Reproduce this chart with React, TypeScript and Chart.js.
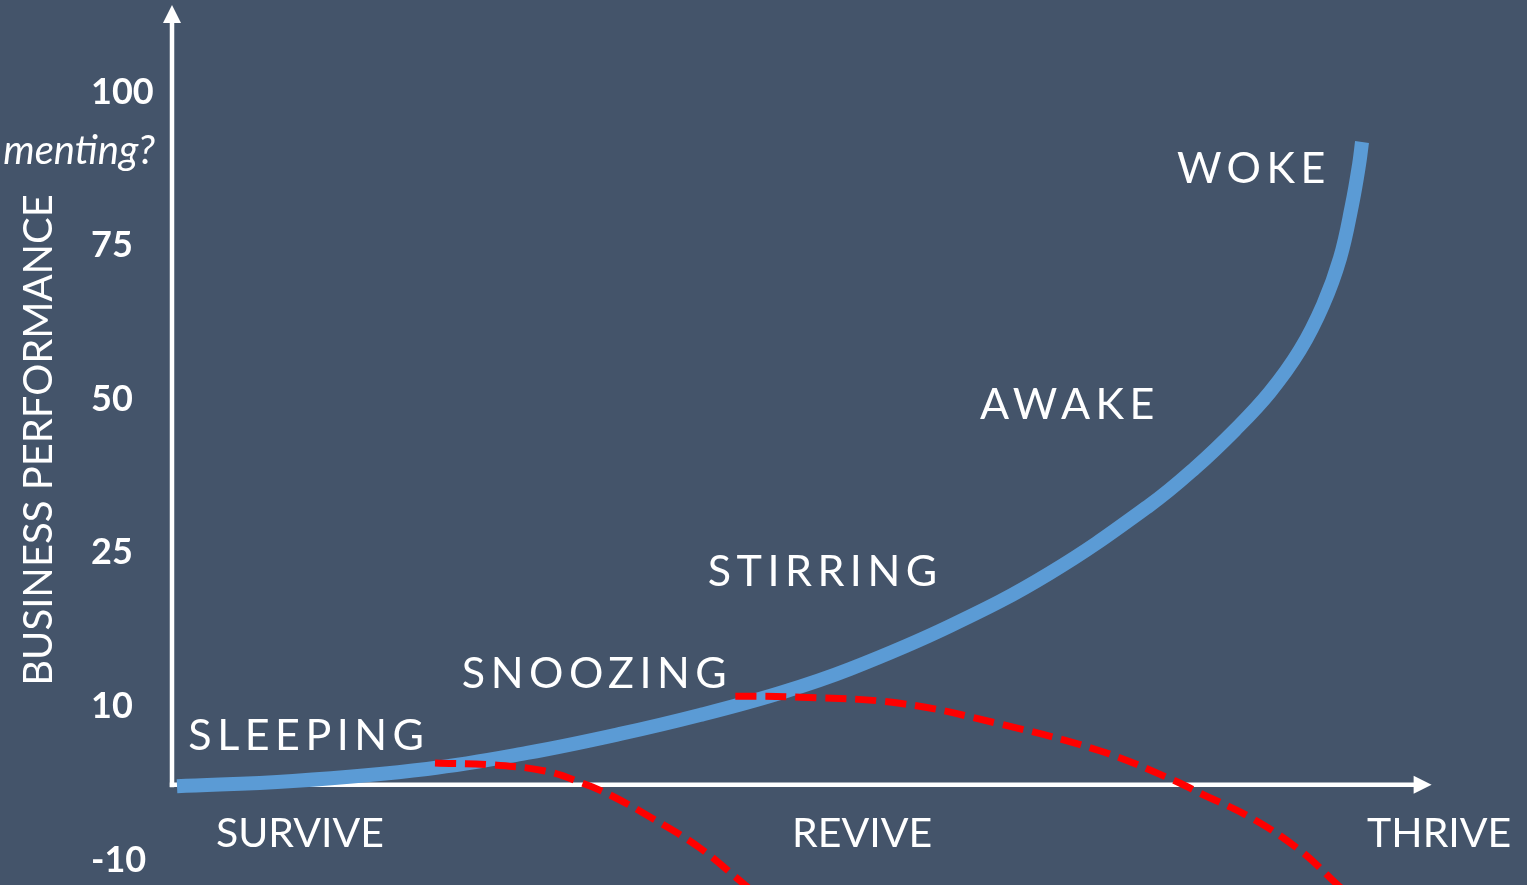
import React, { useEffect, useRef } from 'react';
import { Chart, registerables } from 'chart.js';

Chart.register(...registerables);

// ---- scale definition (business performance is drawn on a banded scale) ----
const SCALE_VALUES = [-10, 0, 10, 25, 50, 75, 100];
const SCALE_POSITIONS = [0, 0.49, 1, 2, 3, 4, 5];
const Y_TICKS = [-10, 10, 25, 50, 75, 100];
const Y_TICK_LABELS = ['-10', '10', '25', '50', '75', '100'];
const Y_MIN_POS = -0.163;
const Y_MAX_POS = 5.599;
const X_MIN = 0;
const X_MAX = 108;
const X_AXIS_END = 100.4;

// ---- series ----
const CURVE_X = [0.4, 9.64, 20.32, 28.3, 35.71, 42.08, 48.46, 54.04, 62.01, 69.98, 77.95, 81.54, 84.73, 87.52, 89.91, 91.74, 93.1, 94.05, 94.61, 94.85];
const CURVE_Y = [-0.2, 0.48, 2.01, 4.05, 6.48, 8.9, 11.31, 13.65, 17.85, 23.03, 32.78, 38.8, 44.99, 51.17, 58.01, 65.33, 72.98, 81.61, 88.12, 91.86];

const DECLINE1_X = [20.96, 25.59, 29.73, 32.68, 34.91, 38.1, 42.08, 45.67, 47.66];
const DECLINE1_Y = [2.78, 2.52, 1.75, 0.22, -1.36, -4.29, -8.41, -13.32, -15.98];

const DECLINE2_X = [44.9, 50.1, 58.0, 66.0, 74.0, 79.8, 81.9, 85.9, 89.9, 92.9, 94.0];
const DECLINE2_Y = [11.0, 10.9, 10.3, 7.75, 4.3, 0.6, -1.1, -4.3, -8.7, -13.3, -14.8];

// ---- text ----
const STAGE_LABELS = ['SLEEPING', 'SNOOZING', 'STIRRING', 'AWAKE', 'WOKE'];
const STAGE_X = [1.3, 23.1, 42.7, 64.4, 80.1];
const STAGE_Y = [4.4, 11.8, 21.8, 46.8, 85.2];
const PHASE_LABELS = ['SURVIVE', 'REVIVE', 'THRIVE'];
const PHASE_X = [10.2, 55.0, 101.0];
const Y_TITLE = 'BUSINESS PERFORMANCE';
const SIDE_NOTE = 'menting?';

const BG = '#44546A';
const BLUE = '#5B9BD5';
const RED = '#FF0000';
const FONT = 'Lato, "Open Sans", sans-serif';

function toPos(v: number): number {
  const n = SCALE_VALUES.length;
  let i = 0;
  if (v <= SCALE_VALUES[0]) i = 0;
  else if (v >= SCALE_VALUES[n - 1]) i = n - 2;
  else {
    while (i < n - 2 && v > SCALE_VALUES[i + 1]) i++;
  }
  const v0 = SCALE_VALUES[i], v1 = SCALE_VALUES[i + 1];
  const p0 = SCALE_POSITIONS[i], p1 = SCALE_POSITIONS[i + 1];
  return p0 + ((v - v0) / (v1 - v0)) * (p1 - p0);
}

const pts = (xs: number[], ys: number[]) => xs.map((x, i) => ({ x, y: toPos(ys[i]) }));

const decorPlugin = {
  id: 'decor',
  beforeDraw(chart: any) {
    const { ctx, width, height } = chart;
    ctx.save();
    ctx.fillStyle = BG;
    ctx.fillRect(0, 0, width, height);
    ctx.restore();
  },
  beforeDatasetsDraw(chart: any) {
    const { ctx, chartArea } = chart;
    const xs = chart.scales.x;
    const ys = chart.scales.y;
    const x0 = chartArea.left;
    const y0 = ys.getPixelForValue(toPos(0));
    const xEnd = xs.getPixelForValue(X_AXIS_END);
    const yTop = chartArea.top + 5;
    ctx.save();
    ctx.strokeStyle = '#FFFFFF';
    ctx.fillStyle = '#FFFFFF';
    ctx.lineWidth = 4.5;
    ctx.lineCap = 'butt';
    // y axis
    ctx.beginPath();
    ctx.moveTo(x0, y0 + 2.5);
    ctx.lineTo(x0, yTop + 16);
    ctx.stroke();
    ctx.beginPath();
    ctx.moveTo(x0, yTop);
    ctx.lineTo(x0 - 9, yTop + 18);
    ctx.lineTo(x0 + 9, yTop + 18);
    ctx.closePath();
    ctx.fill();
    // x axis
    ctx.beginPath();
    ctx.moveTo(x0 - 2.2, y0);
    ctx.lineTo(xEnd - 16, y0);
    ctx.stroke();
    ctx.beginPath();
    ctx.moveTo(xEnd, y0);
    ctx.lineTo(xEnd - 18, y0 - 9);
    ctx.lineTo(xEnd - 18, y0 + 9);
    ctx.closePath();
    ctx.fill();
    ctx.restore();
  },
  afterDraw(chart: any) {
    const { ctx, chartArea } = chart;
    const xs = chart.scales.x;
    const ys = chart.scales.y;
    const y0 = ys.getPixelForValue(toPos(0));
    ctx.save();
    ctx.fillStyle = '#FFFFFF';
    // stage labels
    ctx.font = `400 43px ${FONT}`;
    ctx.textAlign = 'left';
    ctx.textBaseline = 'alphabetic';
    (ctx as any).letterSpacing = '5.5px';
    STAGE_LABELS.forEach((t, i) => {
      ctx.fillText(t, xs.getPixelForValue(STAGE_X[i]), ys.getPixelForValue(toPos(STAGE_Y[i])));
    });
    (ctx as any).letterSpacing = '0px';
    // phase labels
    ctx.font = `400 41px ${FONT}`;
    ctx.textAlign = 'center';
    PHASE_LABELS.forEach((t, i) => {
      ctx.fillText(t, xs.getPixelForValue(PHASE_X[i]), y0 + 62);
    });
    // y title
    ctx.save();
    ctx.translate(52, chartArea.top + 440);
    ctx.rotate(-Math.PI / 2);
    ctx.font = `400 40px ${FONT}`;
    ctx.textAlign = 'center';
    ctx.fillText(Y_TITLE, 0, 0);
    ctx.restore();
    // side note
    ctx.font = `italic 400 40px ${FONT}`;
    ctx.textAlign = 'right';
    ctx.fillText(SIDE_NOTE, 155, ys.getPixelForValue(toPos(100)) + 72);
    ctx.restore();
  },
};

export default function App() {
  const ref = useRef<HTMLCanvasElement | null>(null);
  useEffect(() => {
    if (!ref.current) return;
    const redBase = {
      borderColor: RED,
      borderWidth: 7,
      borderDash: [21, 9],
      borderCapStyle: 'butt',
      pointRadius: 0,
      tension: 0.4,
      fill: false,
      order: 0,
    };
    const chart = new Chart(ref.current, {
      type: 'line',
      data: {
        datasets: [
          { ...redBase, label: 'Decline 1', data: pts(DECLINE1_X, DECLINE1_Y) },
          { ...redBase, label: 'Decline 2', data: pts(DECLINE2_X, DECLINE2_Y) },
          {
            label: 'Performance',
            data: pts(CURVE_X, CURVE_Y),
            borderColor: BLUE,
            borderWidth: 14,
            borderCapStyle: 'butt',
            pointRadius: 0,
            tension: 0.4,
            fill: false,
            order: 1,
          },
        ],
      },
      options: {
        animation: false,
        responsive: false,
        maintainAspectRatio: false,
        layout: { padding: { left: 91, right: 0, top: 0, bottom: 0 } },
        plugins: { legend: { display: false }, tooltip: { enabled: false }, title: { display: false } },
        scales: {
          x: {
            type: 'linear',
            min: X_MIN,
            max: X_MAX,
            display: false,
          },
          y: {
            type: 'linear',
            min: Y_MIN_POS,
            max: Y_MAX_POS,
            afterBuildTicks: (s: any) => {
              s.ticks = Y_TICKS.map((v) => ({ value: toPos(v) }));
            },
            afterFit: (s: any) => {
              s.width = 81;
              s.paddingTop = 0;
              s.paddingBottom = 0;
            },
            grid: { display: false, drawTicks: false },
            border: { display: false },
            ticks: {
              color: '#FFFFFF',
              crossAlign: 'far',
              padding: 0,
              autoSkip: false,
              font: { family: FONT, size: 36, weight: 'bold' },
              callback: (_v: any, i: number) => Y_TICK_LABELS[i],
            },
          },
        },
      },
      plugins: [decorPlugin],
    } as any);
    return () => chart.destroy();
  }, []);
  return (
    <div style={{ position: 'fixed', left: 0, top: 0, width: 1527, height: 885, background: BG }}>
      <canvas ref={ref} width={1527} height={885} style={{ display: 'block' }} />
    </div>
  );
}
